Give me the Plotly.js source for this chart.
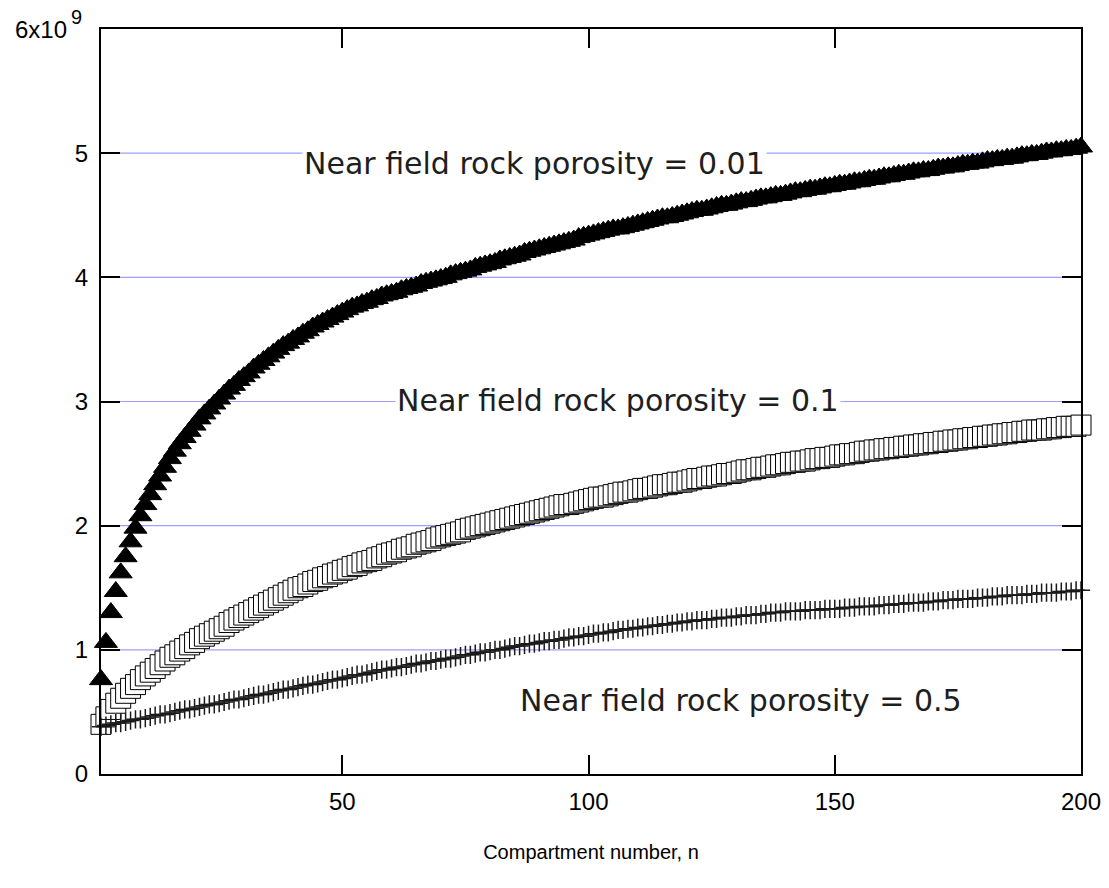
<!DOCTYPE html>
<html>
<head>
<meta charset="utf-8">
<script src="https://cdn.plot.ly/plotly-3.0.1.min.js"></script>
<style>html,body{margin:0;padding:0;background:#fff;}#chart{width:1109px;height:888px;}</style>
</head>
<body>
<div id="chart"></div>
<script>
// Values in units of 1e9, compartment n = 1..200
const porosity001 = [
0.76,1.06,1.30,1.47,1.62,1.75,1.87,1.98,2.08,2.17,
2.25,2.33,2.40,2.47,2.54,2.60,2.66,2.71,2.76,2.81,
2.86,2.90,2.94,2.98,3.02,3.06,3.10,3.13,3.17,3.20,
3.23,3.27,3.30,3.33,3.36,3.39,3.42,3.45,3.47,3.50,
3.52,3.55,3.57,3.60,3.62,3.64,3.66,3.68,3.70,3.72,
3.74,3.76,3.77,3.79,3.80,3.82,3.83,3.85,3.86,3.87,
3.88,3.90,3.91,3.92,3.93,3.95,3.96,3.97,3.98,3.99,
4.00,4.02,4.03,4.04,4.05,4.06,4.08,4.09,4.10,4.11,
4.12,4.14,4.15,4.16,4.17,4.18,4.20,4.21,4.22,4.23,
4.24,4.25,4.26,4.27,4.28,4.29,4.30,4.32,4.33,4.34,
4.35,4.36,4.37,4.38,4.39,4.39,4.40,4.41,4.42,4.43,
4.44,4.45,4.46,4.47,4.48,4.48,4.49,4.50,4.51,4.52,
4.53,4.54,4.54,4.55,4.56,4.57,4.58,4.58,4.59,4.60,
4.61,4.61,4.62,4.63,4.64,4.64,4.65,4.66,4.66,4.67,
4.68,4.69,4.69,4.70,4.71,4.71,4.72,4.73,4.73,4.74,
4.75,4.75,4.76,4.77,4.77,4.78,4.79,4.79,4.80,4.81,
4.81,4.82,4.83,4.83,4.84,4.85,4.85,4.86,4.86,4.87,
4.88,4.88,4.89,4.89,4.90,4.91,4.91,4.92,4.92,4.93,
4.94,4.94,4.95,4.95,4.96,4.96,4.97,4.98,4.98,4.99,
4.99,5.00,5.01,5.01,5.02,5.02,5.03,5.03,5.04,5.05
];
const porosity01 = [
0.40,0.46,0.52,0.57,0.61,0.65,0.69,0.72,0.76,0.79,
0.82,0.85,0.88,0.91,0.94,0.96,0.99,1.01,1.04,1.06,
1.09,1.11,1.13,1.15,1.17,1.19,1.22,1.24,1.26,1.28,
1.30,1.32,1.34,1.36,1.38,1.40,1.42,1.44,1.46,1.48,
1.50,1.51,1.53,1.55,1.56,1.58,1.59,1.61,1.62,1.64,
1.65,1.67,1.68,1.70,1.71,1.72,1.74,1.75,1.77,1.78,
1.79,1.81,1.82,1.83,1.85,1.86,1.87,1.88,1.90,1.91,
1.92,1.93,1.94,1.95,1.97,1.98,1.99,2.00,2.01,2.02,
2.03,2.04,2.05,2.06,2.07,2.08,2.09,2.10,2.11,2.12,
2.13,2.14,2.15,2.16,2.17,2.17,2.18,2.19,2.20,2.21,
2.22,2.23,2.23,2.24,2.25,2.26,2.27,2.27,2.28,2.29,
2.30,2.30,2.31,2.32,2.33,2.33,2.34,2.35,2.35,2.36,
2.37,2.38,2.38,2.39,2.40,2.40,2.41,2.42,2.42,2.43,
2.44,2.45,2.45,2.46,2.47,2.47,2.48,2.49,2.49,2.50,
2.51,2.51,2.52,2.52,2.53,2.54,2.54,2.55,2.55,2.56,
2.57,2.57,2.58,2.58,2.59,2.60,2.60,2.61,2.61,2.62,
2.62,2.63,2.63,2.64,2.64,2.65,2.65,2.66,2.66,2.67,
2.67,2.68,2.68,2.69,2.69,2.70,2.70,2.71,2.71,2.72,
2.72,2.73,2.73,2.74,2.74,2.75,2.75,2.76,2.76,2.77,
2.77,2.77,2.78,2.78,2.79,2.79,2.80,2.80,2.80,2.81
];
const porosity05 = [
0.38,0.39,0.40,0.41,0.41,0.42,0.43,0.44,0.44,0.45,
0.46,0.47,0.48,0.48,0.49,0.50,0.51,0.52,0.52,0.53,
0.54,0.55,0.56,0.56,0.57,0.58,0.59,0.60,0.60,0.61,
0.62,0.63,0.64,0.64,0.65,0.66,0.67,0.68,0.68,0.69,
0.70,0.71,0.72,0.72,0.73,0.74,0.75,0.76,0.76,0.77,
0.78,0.79,0.80,0.80,0.81,0.82,0.83,0.84,0.84,0.85,
0.86,0.86,0.87,0.88,0.89,0.89,0.90,0.91,0.91,0.92,
0.93,0.93,0.94,0.95,0.96,0.96,0.97,0.98,0.98,0.99,
1.00,1.00,1.01,1.02,1.03,1.03,1.04,1.05,1.05,1.06,
1.07,1.07,1.08,1.08,1.09,1.10,1.10,1.11,1.11,1.12,
1.13,1.13,1.14,1.14,1.15,1.16,1.16,1.17,1.17,1.18,
1.18,1.19,1.19,1.20,1.20,1.21,1.21,1.22,1.22,1.23,
1.23,1.24,1.24,1.24,1.25,1.25,1.26,1.26,1.26,1.27,
1.27,1.28,1.28,1.28,1.29,1.29,1.30,1.30,1.30,1.31,
1.31,1.31,1.31,1.32,1.32,1.32,1.32,1.33,1.33,1.33,
1.33,1.34,1.34,1.34,1.35,1.35,1.35,1.35,1.36,1.36,
1.36,1.37,1.37,1.37,1.38,1.38,1.38,1.38,1.39,1.39,
1.39,1.40,1.40,1.40,1.41,1.41,1.41,1.41,1.42,1.42,
1.42,1.43,1.43,1.43,1.44,1.44,1.44,1.44,1.45,1.45,
1.45,1.46,1.46,1.46,1.46,1.47,1.47,1.47,1.48,1.48
];
const compartments = porosity001.map((_, i) => i + 1);
const xTicks = [50, 100, 150, 200];
const yTicks = [0, 1, 2, 3, 4, 5];
const yTickText = ['0', '1', '2', '3', '4', '5'];
const gridLevels = [1, 2, 3, 4, 5];
const labels = ['Near field rock porosity = 0.01', 'Near field rock porosity = 0.1', 'Near field rock porosity = 0.5'];
const xTitle = 'Compartment number, n';

const traces = [
  {x: compartments, y: porosity01, mode: 'markers', type: 'scatter', cliponaxis: false,
   marker: {symbol: 'square', size: 20, color: '#ffffff', line: {color: '#000000', width: 1}}},
  {x: compartments, y: porosity001, mode: 'markers', type: 'scatter', cliponaxis: false,
   marker: {symbol: 'triangle-up', size: 20, color: '#000000', line: {color: '#000000', width: 1}}},
  {x: compartments, y: porosity05, mode: 'markers', type: 'scatter', cliponaxis: false,
   marker: {symbol: 'cross-thin-open', size: 13, color: '#1a1a1a', line: {color: '#1a1a1a', width: 1.5}}}
];

const axisFont = 'Liberation Sans, Arial, sans-serif';
const annFont = {family: 'DejaVu Sans', size: 30, color: '#1e1e1e'};
const layout = {
  width: 1109, height: 888,
  margin: {l: 101, r: 28, t: 29, b: 114},
  paper_bgcolor: '#ffffff', plot_bgcolor: '#ffffff',
  showlegend: false,
  font: {family: axisFont, size: 24, color: '#000000'},
  xaxis: {
    range: [1, 200], tickvals: xTicks, ticks: 'inside', ticklen: 19, tickwidth: 2, tickcolor: '#000',
    showline: true, linewidth: 2, linecolor: '#000', mirror: 'ticks', showgrid: false, zeroline: false,
    ticklabelstandoff: 5, tickfont: {family: axisFont, size: 24},
    title: {text: xTitle, font: {family: axisFont, size: 20}, standoff: 31}
  },
  yaxis: {
    range: [0, 6], tickvals: yTicks, ticktext: yTickText, ticks: 'inside', ticklen: 19, tickwidth: 2, tickcolor: '#000',
    showline: true, linewidth: 2, linecolor: '#000', mirror: 'ticks', showgrid: false,
    zeroline: false, ticklabelstandoff: 6, tickfont: {family: axisFont, size: 24}
  },
  shapes: gridLevels.map(v => ({type: 'line', xref: 'paper', yref: 'y', x0: 0, x1: 1, y0: v, y1: v,
    layer: 'below', line: {color: '#9e9eff', width: 1.2}})),
  annotations: [
    {x: 89.1, y: 4.92, xref: 'x', yref: 'y', text: labels[0], showarrow: false, bgcolor: '#ffffff', font: annFont, xanchor: 'center', yanchor: 'middle'},
    {x: 105.9, y: 3.01, xref: 'x', yref: 'y', text: labels[1], showarrow: false, bgcolor: '#ffffff', font: annFont, xanchor: 'center', yanchor: 'middle'},
    {x: 131, y: 0.59, xref: 'x', yref: 'y', text: labels[2], showarrow: false, bgcolor: '#ffffff', font: annFont, xanchor: 'center', yanchor: 'middle'},
    {x: 0, y: 0, xref: 'paper', yref: 'paper', text: '6x10', showarrow: false, font: {family: axisFont, size: 24}, xanchor: 'right', yanchor: 'middle'},
    {x: 0, y: 0, xref: 'paper', yref: 'paper', text: '9', showarrow: false, font: {family: axisFont, size: 20}, xanchor: 'left', yanchor: 'middle'}
  ]
};
// place the 6x10^9 label (pixel positions converted to paper coords)
layout.annotations[3].x = (69 - 101) / 980; layout.annotations[3].y = (774 - 29) / 745;
layout.annotations[4].x = (69 - 101) / 980; layout.annotations[4].y = (774 - 17) / 745;
Plotly.newPlot('chart', traces, layout, {displayModeBar: false});
</script>
</body>
</html>
